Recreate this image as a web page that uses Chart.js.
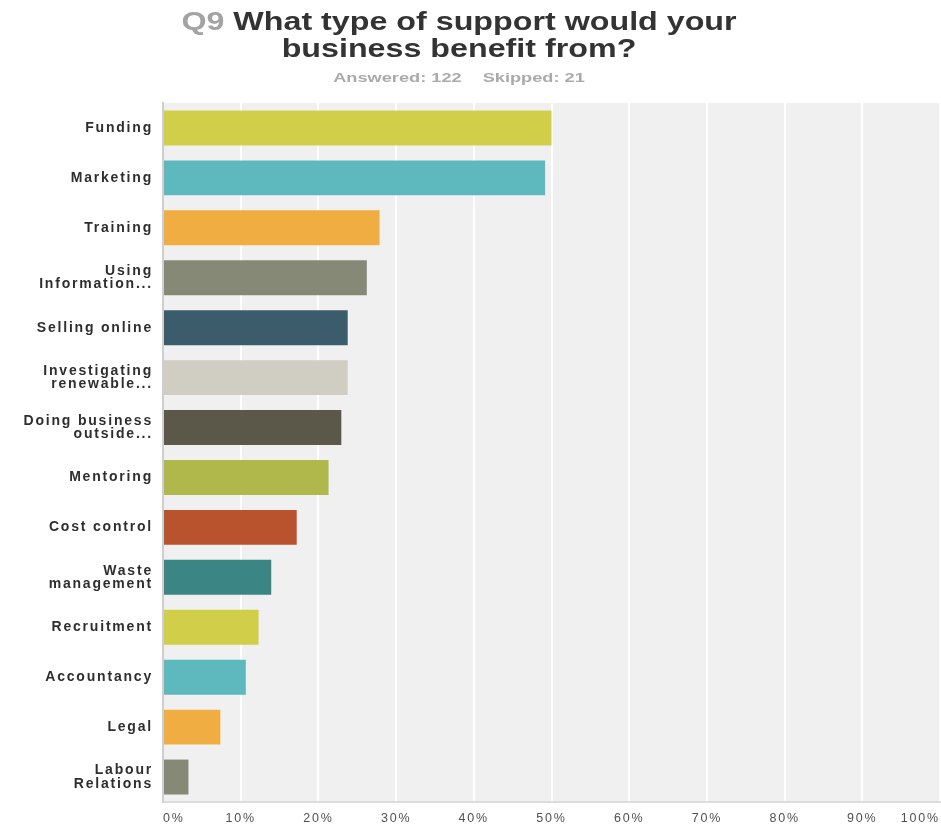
<!DOCTYPE html>
<html>
<head>
<meta charset="utf-8">
<title>Q9 support</title>
<script src="https://cdn.jsdelivr.net/npm/chart.js@4.4.1/dist/chart.umd.min.js"></script>
<style>
  body { margin: 0; background: #fff; font-family: "Liberation Sans", Arial, sans-serif; }
  #wrap { position: relative; width: 941px; height: 828px; }
  #myChart { position: absolute; left: 0; top: 0; }
  .head { position: absolute; white-space: nowrap; text-align: center; font-weight: bold; transform-origin: center top; }
  #title { left: 459px; top: 8px; font-size: 26px; line-height: 27px; color: #333; transform: translateX(-50%) scaleX(1.24); }
  #title .q { color: #a3a3a3; }
  #sub { left: 459px; top: 70px; font-size: 13px; line-height: 16px; color: #aaa; transform: translateX(-50%) scaleX(1.4); }
  #sub .gap { display: inline-block; width: 15px; }
</style>
</head>
<body>
<div id="wrap">
  <canvas id="myChart" width="941" height="828"></canvas>
  <div id="title" class="head"><span class="q">Q9</span> What type of support would your<br>business benefit from?</div>
  <div id="sub" class="head">Answered: 122<span class="gap"></span>Skipped: 21</div>
</div>
<script>
// answer options, top to bottom
var categories = [
	['Funding'],
	['Marketing'],
	['Training'],
	['Using', 'Information...'],
	['Selling online'],
	['Investigating', 'renewable...'],
	['Doing business', 'outside...'],
	['Mentoring'],
	['Cost control'],
	['Waste', 'management'],
	['Recruitment'],
	['Accountancy'],
	['Legal'],
	['Labour', 'Relations'],
];

// share of the 122 respondents, in percent
var responses = [50.00, 49.18, 27.87, 26.23, 23.77, 23.77, 22.95, 21.31, 17.21, 13.93, 12.30, 10.66, 7.38, 3.28];

var xTicks = [0, 10, 20, 30, 40, 50, 60, 70, 80, 90, 100];

var palette = [
	'#d1ce4a', '#5db9be', '#f0ad42', '#878977', '#3b5d6b', '#d0cec2', '#5b5749',
	'#b1b84b', '#b9532e', '#3b8584', '#d1ce4a', '#5db9be', '#f0ad42', '#878977',
];

// grey plot background plus wider text for the axis labels
var plotBackground = {
	id: 'plotBackground',
	beforeDraw: function (chart) {
		var ctx = chart.ctx;
		var a = chart.chartArea;
		ctx.save();
		ctx.fillStyle = '#f0f0f0';
		ctx.fillRect(a.left, a.top, a.right - a.left, a.bottom - a.top);
		ctx.restore();
		ctx.letterSpacing = '1.8px';
	},
};

var ctx = document.getElementById('myChart').getContext('2d');
var myChart = new Chart(ctx, {
	type: 'bar',
	data: {
		labels: categories,
		datasets: [
			{
				data: responses,
				backgroundColor: palette,
				borderWidth: 0,
				barPercentage: 0.7,
				categoryPercentage: 1,
			},
		],
	},
	options: {
		indexAxis: 'y',
		responsive: false,
		animation: false,
		layout: { padding: { top: 103, right: 1, bottom: 0, left: 0 } },
		plugins: {
			legend: { display: false },
			tooltip: { enabled: false },
		},
		scales: {
			x: {
				min: 0,
				max: 100,
				afterBuildTicks: function (scale) {
					scale.ticks = xTicks.map(function (v) { return { value: v }; });
				},
				afterFit: function (scale) {
					scale.height = 26;
					scale.paddingLeft = 0;
					scale.paddingRight = 0;
				},
				grid: { color: '#ffffff', lineWidth: 2, drawTicks: false },
				border: { display: true, color: '#dcdcdc', width: 2 },
				ticks: {
					align: 'inner',
					padding: 9,
					color: '#505050',
					font: { family: '"Liberation Sans", Arial, sans-serif', size: 12.5 },
					callback: function (v) { return v + '%'; },
				},
			},
			y: {
				afterFit: function (scale) {
					scale.width = 163;
					scale.paddingTop = 0;
					scale.paddingBottom = 0;
				},
				grid: { display: false, drawTicks: false },
				border: { display: true, color: '#cfcfcf', width: 2 },
				ticks: {
					padding: 10,
					color: '#2e2e2e',
					font: { family: '"Liberation Sans", Arial, sans-serif', size: 14, weight: 'bold', lineHeight: 0.95 },
				},
			},
		},
	},
	plugins: [plotBackground],
});
</script>
</body>
</html>
